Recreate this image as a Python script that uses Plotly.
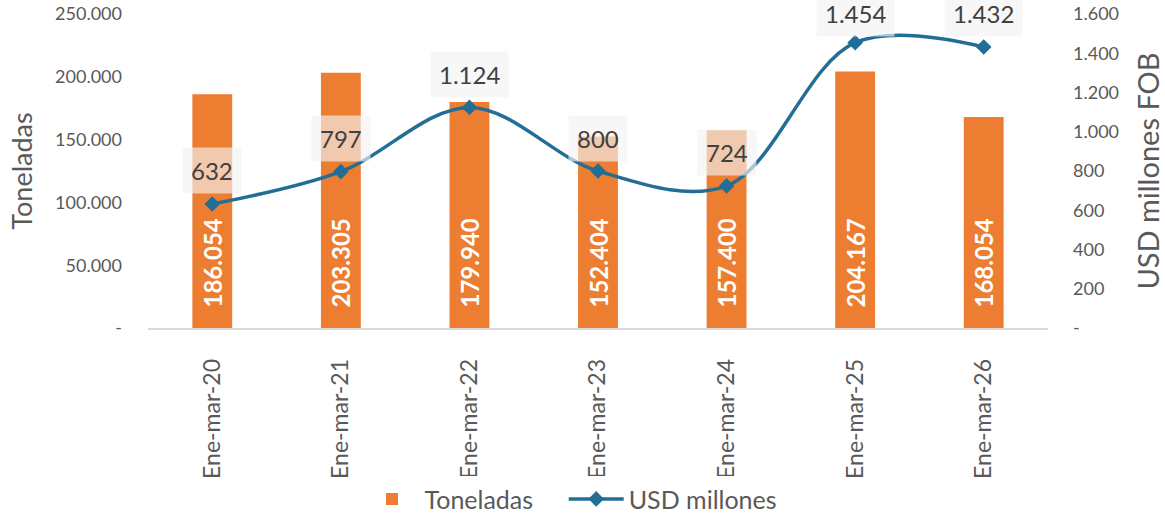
import plotly.graph_objects as go

periodos = ["Ene-mar-20", "Ene-mar-21", "Ene-mar-22", "Ene-mar-23", "Ene-mar-24", "Ene-mar-25", "Ene-mar-26"]
toneladas = [186054, 203305, 179940, 152404, 157400, 204167, 168054]
usd_millones = [632, 797, 1124, 800, 724, 1454, 1432]
usd_etiquetas = ["632", "797", "1.124", "800", "724", "1.454", "1.432"]

ton_ticks = [0, 50000, 100000, 150000, 200000, 250000]
ton_ticktext = ["-", "50.000", "100.000", "150.000", "200.000", "250.000"]
usd_ticks = [0, 200, 400, 600, 800, 1000, 1200, 1400, 1600]
usd_ticktext = ["-", "200", "400", "600", "800", "1.000", "1.200", "1.400", "1.600"]

GRIS = "#595959"
NARANJA = "#ED7D31"
AZUL = "#236E96"
FUENTE = "Lato"
NBSP = "\u00a0"

fig = go.Figure()
fig.add_trace(go.Bar(
    x=periodos, y=toneladas, name="Toneladas" + NBSP * 4,
    marker=dict(color=NARANJA, line=dict(width=0)),
    width=0.31,
    texttemplate=NBSP * 3 + "%{y:,d}", textposition="inside", insidetextanchor="start",
    textangle=-90,
    textfont=dict(family=FUENTE, size=24, color="white", weight="bold"),
))
fig.add_trace(go.Scatter(
    x=periodos, y=usd_millones, name="USD millones", yaxis="y2",
    mode="lines+markers",
    line=dict(color=AZUL, width=3.5, shape="spline", smoothing=1),
    marker=dict(symbol="diamond", size=12, color=AZUL),
))

for p, v, t in zip(periodos, usd_millones, usd_etiquetas):
    # la etiqueta más alta se baja un poco para que no se corte arriba
    fig.add_annotation(
        x=p, y=v, xref="x", yref="y2", text=t, showarrow=False,
        yshift=33 if v < 1440 else 29, bgcolor="rgba(242,242,242,0.65)", borderpad=8,
        font=dict(family=FUENTE, size=24, color="#404040"),
    )

fig.update_layout(
    width=1165, height=515,
    margin=dict(l=148, r=117, t=14, b=187, autoexpand=False),
    plot_bgcolor="white", paper_bgcolor="white",
    separators=",.",
    font=dict(family=FUENTE, color=GRIS),
    showlegend=True,
    legend=dict(orientation="h", x=0.47, xanchor="center", y=-0.545, yanchor="middle",
                font=dict(size=25, color=GRIS), itemwidth=55, traceorder="normal"),
    xaxis=dict(tickangle=-90, tickfont=dict(size=23, color=GRIS), showgrid=False,
               showline=True, linecolor="#D9D9D9", linewidth=1.5, ticks="",
               ticklabelstandoff=20, automargin=False),
    yaxis=dict(range=[0, 250000], tickvals=ton_ticks, ticktext=ton_ticktext,
               tickfont=dict(size=18, color=GRIS), showgrid=False, zeroline=False,
               ticklabelstandoff=25, automargin=False, ticklabeloverflow="allow",
               title=dict(text="Toneladas", font=dict(size=27, color=GRIS), standoff=14)),
    yaxis2=dict(range=[0, 1600], tickvals=usd_ticks, ticktext=usd_ticktext,
                overlaying="y", side="right",
                tickfont=dict(size=18, color=GRIS), showgrid=False, zeroline=False,
                ticklabelstandoff=24, automargin=False, ticklabeloverflow="allow",
                title=dict(text="USD millones FOB", font=dict(size=29, color=GRIS), standoff=22)),
)

# sin el margen por defecto del body, la figura ocupa la ventana completa
fig.write_html("out.html", config={"displayModeBar": False},
               post_script="document.body.style.margin = '0';")
